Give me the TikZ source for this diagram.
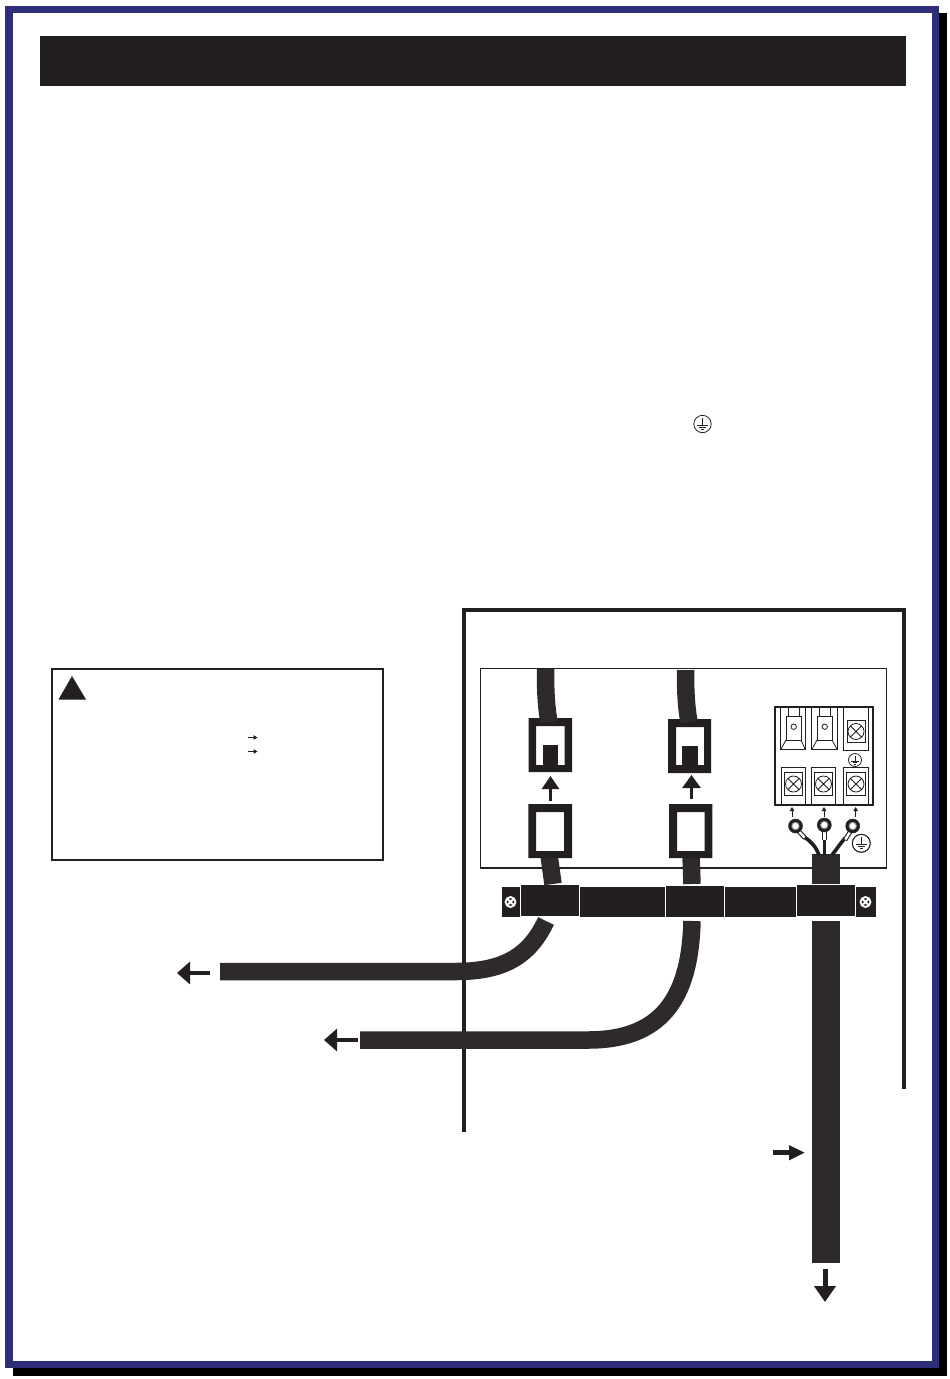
\documentclass[tikz,border=0pt]{standalone}
\usetikzlibrary{arrows.meta}
\definecolor{framebl}{RGB}{46,45,120}
\definecolor{inkdk}{RGB}{35,31,32}
\definecolor{cablegr}{RGB}{46,42,43}
\tikzset{
	cable/.style={draw=cablegr, line width=17.5pt},
	thinln/.style={draw=inkdk, line width=.8pt},
	wire/.style={draw=inkdk, line width=3.6pt},
	bigarr/.style={draw=inkdk, line width=4pt, -{Triangle[length=13pt, width=22pt]}, shorten >=0pt},
	tinyarr/.style={draw=inkdk, line width=1pt, -{Triangle[length=4pt, width=4.5pt]}},
	lugring/.style={draw=inkdk, fill=inkdk, line width=.5pt},
	lughole/.style={draw=black!45, fill=white, line width=.9pt},
	earth/.pic={
		\draw[thinln] (0,0) circle (1);
		\draw[thinln] (0,-.65) -- (0,.15) (-.62,.15) -- (.62,.15) (-.38,.38) -- (.38,.38) (-.14,.6) -- (.14,.6);
	},
	screw/.pic={
		\draw[thinln] (0,0) circle (1) (-.7,-.7) -- (.7,.7) (-.7,.7) -- (.7,-.7);
	},
	whitescrew/.pic={
		\draw[white, line width=1.8pt] (0,0) circle (1) (-.7,-.7) -- (.7,.7) (-.7,.7) -- (.7,-.7);
	},
}
\begin{document}
\begin{tikzpicture}[x=1pt, y=-1pt, fill=inkdk]
	\useasboundingbox (0,0) rectangle (950,1379);
	% page frame and title bar
	\fill[black] (13,13) rectangle (947,1376);
	\fill[framebl] (5,6) rectangle (939,1368);
	\fill[white] (13,13) rectangle (932,1361);
	\fill (40,36) rectangle (906,86);
	\pic[scale=8.7] at (702.5,424) {earth};
	% warning box
	\draw[draw=inkdk, line width=2pt] (52,669) rectangle (383,860);
	\fill (72,676) -- (86,699.5) -- (58.5,699.5) -- cycle;
	\draw[tinyarr] (248,737.5) -- (257.5,737.5);
	\draw[tinyarr] (248,751.5) -- (257.5,751.5);
	% housing and inner panel
	\draw[draw=inkdk, line width=4pt] (464,1132) -- (464,610) -- (904,610) -- (904,1089);
	\draw[draw=inkdk, line width=1.1pt] (480.5,668.5) rectangle (886.7,868);
	% clamp bar
	\fill (502,887) rectangle (520,917);
	\fill (521,885) rectangle (579,916);
	\fill (580,887) rectangle (665,917);
	\fill (666,886) rectangle (724,917);
	\fill (725,887) rectangle (796,917);
	\fill (797,885) rectangle (855,916);
	\fill (856,887) rectangle (876,917);
	\pic[scale=5] at (510.5,902) {whitescrew};
	\pic[scale=5] at (865.5,902) {whitescrew};
	% jacks and plugs
	\fill[even odd rule] (528.7,718) rectangle (572,772) (536,726) rectangle (564.5,765);
	\fill (543,745) rectangle (558,766);
	\fill[even odd rule] (668,719) rectangle (711,773) (676,727) rectangle (704,765);
	\fill (682,746) rectangle (698,766);
	\draw[cable] (549,855) -- (553,884);
	\draw[cable] (691,855) -- (692,884);
	\fill[even odd rule] (528.3,804) rectangle (572,858) (536,812) rectangle (564,851);
	\fill[even odd rule] (669,804) rectangle (712.3,858) (677,812) rectangle (704.5,851);
	\draw[cable] (545.5,669) .. controls (545.5,690) and (546,705) .. (549,722);
	\draw[cable] (685.5,670) .. controls (685.5,690) and (686,705) .. (689,722);
	\draw[bigarr, -{Triangle[length=13pt, width=17pt]}, line width=2.8pt] (550.5,801) -- (550.5,776);
	\draw[bigarr, -{Triangle[length=13pt, width=18pt]}, line width=2.8pt] (691.5,799) -- (691.5,775);
	% cables leaving the housing
	\draw[cable] (220,971.5) -- (456,971.5) .. controls (505,971.5) and (530,955) .. (546,921);
	\draw[cable] (360,1040) -- (588,1040) .. controls (660,1040) and (690,1000) .. (692,921);
	\fill[cablegr] (812,854) rectangle (840,884);
	\fill[cablegr] (812,921) rectangle (840,1263);
	\draw[bigarr, line width=3.6pt] (210,973) -- (177,973);
	\draw[bigarr, line width=3.6pt] (358,1040) -- (324,1040);
	\draw[bigarr, -{Triangle[length=16pt, width=14pt]}, line width=4.5pt] (773,1152.7) -- (805,1152.7);
	\draw[bigarr, -{Triangle[length=16pt, width=21pt]}, line width=5pt] (825,1269) -- (825,1302);
	% terminal block
	\draw[draw=inkdk, line width=1.9pt] (775,707) rectangle (873,805);
	\draw[thinln] (780,707) -- (780,749) -- (805,749) -- (805,707);
	\draw[thinln] (786,740) rectangle (801,716) (788,716) -- (788,707) (799,716) -- (799,707);
	\draw[thinln] (786,740) -- (781,749) (801,740) -- (805,749);
	\draw[thinln] (793.7,726.7) circle (2.7);
	\draw[thinln] (811,707) -- (811,749) -- (837,749) -- (837,707);
	\draw[thinln] (817,740) rectangle (832,716) (819,716) -- (819,707) (830,716) -- (830,707);
	\draw[thinln] (817,740) -- (812,749) (832,740) -- (837,749);
	\draw[thinln] (824.7,726.7) circle (2.7);
	\draw[thinln] (843,707) -- (843,750.7) -- (868,750.7) -- (868,707);
	\draw[thinln] (847,720) rectangle (865,742.7);
	\pic[scale=8] at (856,731.5) {screw};
	\pic[scale=6.5] at (855,760) {earth};
	\draw[thinln] (781,805) -- (781,767.3) -- (805,767.3) -- (805,805);
	\draw[thinln] (784,772.7) rectangle (802.7,795);
	\pic[scale=8] at (793.5,784) {screw};
	\draw[thinln] (811.3,805) -- (811.3,767.3) -- (835.7,767.3) -- (835.7,805);
	\draw[thinln] (814.3,772.7) rectangle (832.7,795);
	\pic[scale=8] at (823.5,784) {screw};
	\draw[thinln] (843.3,805) -- (843.3,767.3) -- (868.3,767.3) -- (868.3,805);
	\draw[thinln] (846.7,772.7) rectangle (865,795);
	\pic[scale=8] at (856,784) {screw};
	\draw[tinyarr] (792,817) -- (792,807);
	\draw[tinyarr] (824,817) -- (824,807);
	\draw[tinyarr] (855.7,817) -- (855.7,807);
	% ring lugs and wires
	\draw[wire] (804,837) .. controls (811,841) and (816,847) .. (819,855);
	\draw[wire] (824.3,838) -- (824.3,855);
	\draw[wire] (845,838) .. controls (840,844) and (836,850) .. (832,855);
	\draw[draw=inkdk, line width=4.6pt] (798.5,831) -- (805,838);
	\draw[white, line width=2.4pt] (798.5,831) -- (804.5,837.5);
	\draw[draw=inkdk, line width=4.6pt] (824.3,831) -- (824.3,840);
	\draw[white, line width=2.4pt] (824.3,831) -- (824.3,839.5);
	\draw[draw=inkdk, line width=4.6pt] (850,832) -- (845,840);
	\draw[white, line width=2.4pt] (850,832) -- (845.3,839.5);
	\draw[lugring] (795.5,826) circle (7);
	\draw[lughole] (795.5,826) circle (3.7);
	\draw[lugring] (824.3,825) circle (7);
	\draw[lughole] (824.3,825) circle (3.7);
	\draw[lugring] (852.7,826) circle (7);
	\draw[lughole] (852.7,826) circle (3.7);
	\draw[thinln, fill=white] (861.3,843.3) circle (9);
	\pic[scale=9] at (861.3,843.3) {earth};
\end{tikzpicture}
\end{document}
